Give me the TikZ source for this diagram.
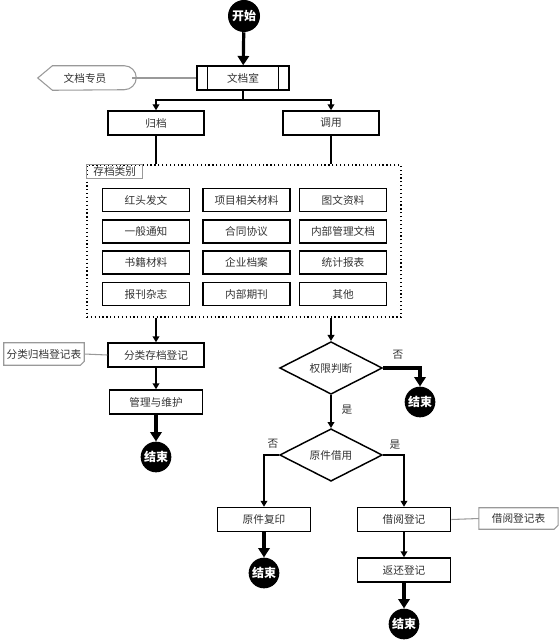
\documentclass[tikz,border=0pt]{standalone}
\usepackage{fontspec}
\setmainfont{Noto Sans CJK SC}
\usetikzlibrary{shapes.geometric,arrows.meta}

\tikzset{
  box/.style={draw, line width=1.1pt, minimum width=72pt, minimum height=18pt, inner sep=0pt, text=black!80, font=\fontsize{8}{10}\selectfont},
  kind/.style={box, minimum width=65pt, minimum height=17.5pt},
  term/.style={circle, fill=black, text=white, minimum size=23pt, inner sep=0pt, font=\fontsize{9}{10}\selectfont\bfseries},
  decide/.style={diamond, draw, line width=1.1pt, minimum width=77pt, minimum height=34.5pt, inner sep=0pt, text=black!80, font=\fontsize{8}{10}\selectfont},
  memo/.style={minimum width=60pt, minimum height=16.5pt, inner sep=0pt, text=black!80, font=\fontsize{8}{10}\selectfont},
  memoline/.style={draw=black!40, line width=0.8pt},
  arr/.style={line width=1.1pt, -{Triangle[length=4.5pt,width=5pt]}},
  bigarr/.style={line width=2.4pt, -{Triangle[length=7pt,width=8.5pt]}},
  lbl/.style={font=\fontsize{8}{10}\selectfont, text=black!80}
}

\begin{document}
\begin{tikzpicture}[x=0.75pt, y=-0.75pt]
    \useasboundingbox (0,0) rectangle (559,641);
    % top
    \node[term, minimum size=24pt] (start) at (244,16) {开始};
    \node[box, minimum width=69pt] (room) at (243,78) {文档室};
    \draw[line width=1.1pt] ([xshift=8.25pt]room.north west) -- ([xshift=8.25pt]room.south west);
    \draw[line width=1.1pt] ([xshift=-8.25pt]room.north east) -- ([xshift=-8.25pt]room.south east);
    \node[memo, minimum width=70.5pt, minimum height=18pt] (clerk) at (85,78) {文档专员};
    \draw[memoline] (clerk.west) -- ([xshift=11pt]clerk.north west) -- ([xshift=-6pt]clerk.north east)
        arc (90:-90:9pt) -- ([xshift=11pt]clerk.south west) -- cycle;
    \draw[memoline] (clerk.east) -- (room.west);
    \draw[bigarr] (start) -- (room);
    % split
    \coordinate (split) at (243,100);
    \node[box] (archive) at (156,123) {归档};
    \node[box] (use) at (331,123) {调用};
    \draw[line width=1.1pt] (room.south) -- (split);
    \draw[arr] (split) -| (archive);
    \draw[arr] (split) -| (use);
    % categories
    \node[draw, dotted, line width=0.9pt, minimum width=235.5pt, minimum height=114pt, inner sep=0pt] (store) at (244,241) {};
    \node[draw=black!40, anchor=north west, minimum width=42pt, minimum height=10pt, inner sep=0.5pt, lbl] (storelbl) at (store.north west) {存档类别};
    \draw[line width=1.1pt] (archive) -- (archive |- store.north);
    \draw[line width=1.1pt] (use) -- (use |- store.north);
    \node[kind] (c11) at (146,200) {红头发文};
    \node[kind] (c12) at (246.5,200) {项目相关材料};
    \node[kind] (c13) at (343,200) {图文资料};
    \node[kind] (c21) at (146,231.5) {一般通知};
    \node[kind] (c22) at (246.5,231.5) {合同协议};
    \node[kind] (c23) at (343,231.5) {内部管理文档};
    \node[kind] (c31) at (146,262.5) {书籍材料};
    \node[kind] (c32) at (246.5,262.5) {企业档案};
    \node[kind] (c33) at (343,262.5) {统计报表};
    \node[kind] (c41) at (146,294) {报刊杂志};
    \node[kind] (c42) at (246.5,294) {内部期刊};
    \node[kind] (c43) at (343,294) {其他};
    % left branch
    \node[box] (reg) at (156,355) {分类存档登记};
    \node[memo] (regmemo) at (44,354) {分类归档登记表};
    \draw[memoline] (regmemo.north west) -- (regmemo.north east) -- ([yshift=3pt]regmemo.south east)
        -- ([xshift=-3pt]regmemo.south east) -- (regmemo.south west) -- cycle;
    \draw[memoline] (regmemo.east) -- (reg.west);
    \node[box, minimum width=70pt] (keep) at (156,402) {管理与维护};
    \node[term] (end1) at (156,457) {结束};
    \draw[arr] (archive |- store.south) -- (reg);
    \draw[arr] (reg) -- (keep);
    \draw[bigarr] (keep) -- (end1);
    % right branch
    \node[decide] (perm) at (331,368) {权限判断};
    \node[term] (end2) at (420,402) {结束};
    \node[decide] (orig) at (331,455) {原件借用};
    \draw[arr] (use |- store.south) -- (perm);
    \draw[bigarr] (perm.east) -| (end2);
    \draw[arr] (perm) -- (orig);
    \node[lbl] (no1) at (398,355) {否};
    \node[lbl] (yes1) at (347,410) {是};
    \node[box, minimum width=70pt] (copy) at (264,519.5) {原件复印};
    \node[box, minimum width=70pt] (borrow) at (404,519.5) {借阅登记};
    \node[memo, minimum width=59pt, minimum height=15.75pt] (borrowmemo) at (518.5,518.5) {借阅登记表};
    \draw[memoline] (borrowmemo.north west) -- (borrowmemo.north east) -- ([yshift=3pt]borrowmemo.south east)
        -- ([xshift=-3pt]borrowmemo.south east) -- (borrowmemo.south west) -- cycle;
    \draw[memoline] (borrow.east) -- (borrowmemo.west);
    \draw[arr] (orig.west) -| (copy);
    \draw[arr] (orig.east) -| (borrow);
    \node[lbl] (no2) at (273,444) {否};
    \node[lbl] (yes2) at (395,445) {是};
    \node[term] (end3) at (264,573) {结束};
    \node[box, minimum width=70pt] (back) at (404,570) {返还登记};
    \node[term] (end4) at (404,624) {结束};
    \draw[bigarr] (copy) -- (end3);
    \draw[arr] (borrow) -- (back);
    \draw[bigarr] (back) -- (end4);
\end{tikzpicture}
\end{document}
